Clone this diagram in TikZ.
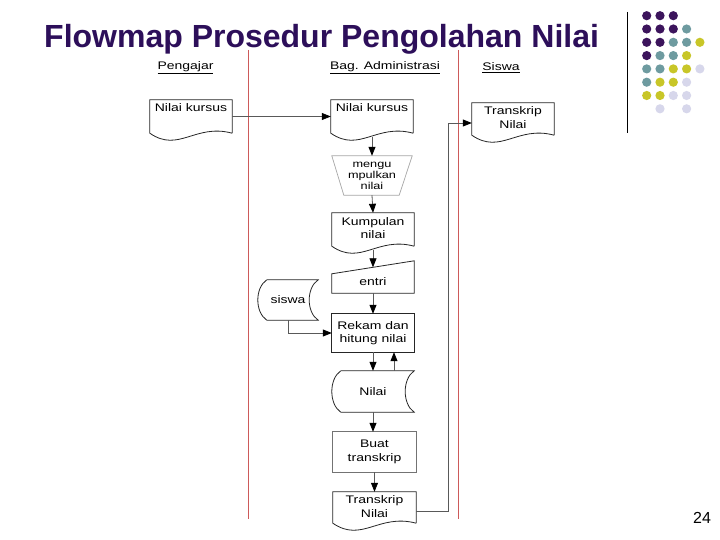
\documentclass[tikz,border=0pt]{standalone}
\usepackage{fontspec}
\setmainfont{Liberation Sans}
\newfontfamily\flowfont[FakeStretch=1.27]{Liberation Sans}
\usetikzlibrary{arrows.meta,calc}
\definecolor{titlepurple}{RGB}{45,15,90}
\definecolor{lanered}{RGB}{205,90,90}
\definecolor{dotP}{RGB}{60,20,92}
\definecolor{dotT}{RGB}{110,155,160}
\definecolor{dotY}{RGB}{200,198,40}
\definecolor{dotL}{RGB}{215,215,235}
\newcommand\toptext[3]{\parbox[c][#1][t]{78pt}{\centering\vspace*{#2}#3}}
\newcommand\docpath[1]{\draw[outline] (#1.south east) -- (#1.north east) -- (#1.north west) -- (#1.south west) .. controls ($(#1.south west)!0.35!(#1.south east)+(0,20)$) and ($(#1.south west)!0.55!(#1.south east)+(0,-10)$) .. (#1.south east);}
\newcommand\storepath[2]{\draw[outline] ($(#1.north west)+(#2,0)$) -- (#1.north east) .. controls ($(#1.north east)+(-4*#2/3,8)$) and ($(#1.south east)+(-4*#2/3,-8)$) .. (#1.south east) -- ($(#1.south west)+(#2,0)$) .. controls ($(#1.south west)+(-#2/3,-8)$) and ($(#1.north west)+(-#2/3,8)$) .. ($(#1.north west)+(#2,0)$);}
\tikzset{
  flow/.style={inner sep=0pt, minimum width=82pt, draw=none, align=center,
    font=\flowfont\fontsize{11}{13.5}\selectfont},
  lane/.style={inner sep=0pt, font=\flowfont\fontsize{11}{13}\selectfont},
  outline/.style={draw=black!85, line width=0.8pt},
  conn/.style={draw=black!65, line width=0.8pt, -{Triangle[length=9pt,width=7pt,black]}},
  lanesep/.style={draw=lanered, line width=1.3pt}
}
\begin{document}
\begin{tikzpicture}[x=1pt,y=-1pt]
\useasboundingbox (0,0) rectangle (720,540);
\fill[white] (0,0) rectangle (720,540);
% title
\node[anchor=base west, inner sep=0pt, text=titlepurple, font=\bfseries\fontsize{32}{36}\selectfont] (title) at (44,48) {Flowmap Prosedur Pengolahan Nilai};
% decoration
\draw[black, line width=0.8pt] (627,12) -- (627,133);
\foreach \c/\r/\col in {0/0/dotP,1/0/dotP,2/0/dotP,
  0/1/dotP,1/1/dotP,2/1/dotP,3/1/dotT,
  0/2/dotP,1/2/dotP,2/2/dotT,3/2/dotT,4/2/dotY,
  0/3/dotP,1/3/dotT,2/3/dotT,3/3/dotY,
  0/4/dotT,1/4/dotT,2/4/dotY,3/4/dotY,4/4/dotL,
  0/5/dotT,1/5/dotY,2/5/dotY,3/5/dotL,
  0/6/dotY,1/6/dotY,2/6/dotL,3/6/dotL,
  1/7/dotL,3/7/dotL}
  \fill[\col] (646.7+13.3*\c,15.7+13.3*\r) circle (4.6);
\node[inner sep=0pt, font=\fontsize{16}{18}\selectfont] (page) at (702,518) {24};
% lanes
\draw[lanesep] (248.3,50) -- (248.3,519);
\draw[lanesep] (458.3,50) -- (458.3,519);
\node[lane] (h1) at (185.5,68) {\underline{Pengajar}};
\node[lane] (h2) at (385,68) {\underline{Bag. Administrasi}};
\node[lane] (h3) at (501,68) {\underline{Siswa}};
% nodes
\node[flow, minimum height=33pt] (d1) at (191,116.5) {\toptext{33pt}{3.5pt}{Nilai kursus}};
\node[flow, minimum height=33pt] (d2) at (372,116.5) {\toptext{33pt}{3.5pt}{Nilai kursus}};
\node[flow, minimum width=80pt, minimum height=39pt, font=\flowfont\fontsize{10}{11}\selectfont] (t1) at (372,175.5) {\toptext{39pt}{6pt}{mengu\\mpulkan\\nilai}};
\node[flow, minimum height=33pt] (k1) at (373,229.5) {\toptext{33pt}{4.5pt}{Kumpulan\\nilai}};
\node[flow, minimum height=32pt] (e1) at (373,277) {\toptext{32pt}{17pt}{entri}};
\node[flow, minimum width=60pt, minimum height=40pt] (siswa) at (288,300) {siswa};
\node[flow, minimum height=38pt] (r1) at (373,333) {Rekam dan\\hitung nilai};
\node[flow, minimum height=41pt] (n1) at (373,391.5) {Nilai};
\node[flow, minimum width=83pt, minimum height=40pt] (b1) at (374.5,452) {Buat\\transkrip};
\node[flow, minimum width=83pt, minimum height=31pt] (tn) at (374.5,507.5) {\toptext{31pt}{4pt}{Transkrip\\Nilai}};
\node[flow, minimum height=32pt] (sd) at (513,119) {\toptext{32pt}{4pt}{Transkrip\\Nilai}};
% outlines
\docpath{d1}
\docpath{d2}
\docpath{k1}
\docpath{tn}
\docpath{sd}
\draw[draw=black!35, line width=0.7pt] (t1.north west) -- (t1.north east) -- ($(t1.south east)+(-13,0)$) -- ($(t1.south west)+(12,0)$) -- cycle;
\draw[outline] (e1.south west) -- ($(e1.north west)+(0,13)$) -- (e1.north east) -- (e1.south east) -- cycle;
\storepath{siswa}{9}
\storepath{n1}{9}
\draw[outline] (r1.north west) rectangle (r1.south east);
\draw[draw=black!55, line width=0.8pt] (b1.north west) rectangle (b1.south east);
% connectors
\draw[conn] (d1.east) -- (d2.west);
\draw[conn] ([yshift=-3.75pt]d2.south) -- (t1.north);
\draw[conn] (t1.south) -- (k1.north);
\draw[conn] ([yshift=-3.75pt]k1.south) -- ($(e1.north)+(0,6.5)$);
\draw[conn] (e1.south) -- (r1.north);
\draw[conn] (siswa.south) |- (r1.west);
\draw[conn] (r1.south) -- (n1.north);
\draw[conn] ([xshift=21pt]n1.north) -- ([xshift=21pt]r1.south);
\draw[conn] (n1.south) -- (n1.south |- b1.north);
\draw[conn] (b1.south) -- (tn.north);
\draw[conn] ([yshift=-4pt]tn.east) -- ++(32.5,0) |- ([yshift=-4pt]sd.west);
\end{tikzpicture}
\end{document}
